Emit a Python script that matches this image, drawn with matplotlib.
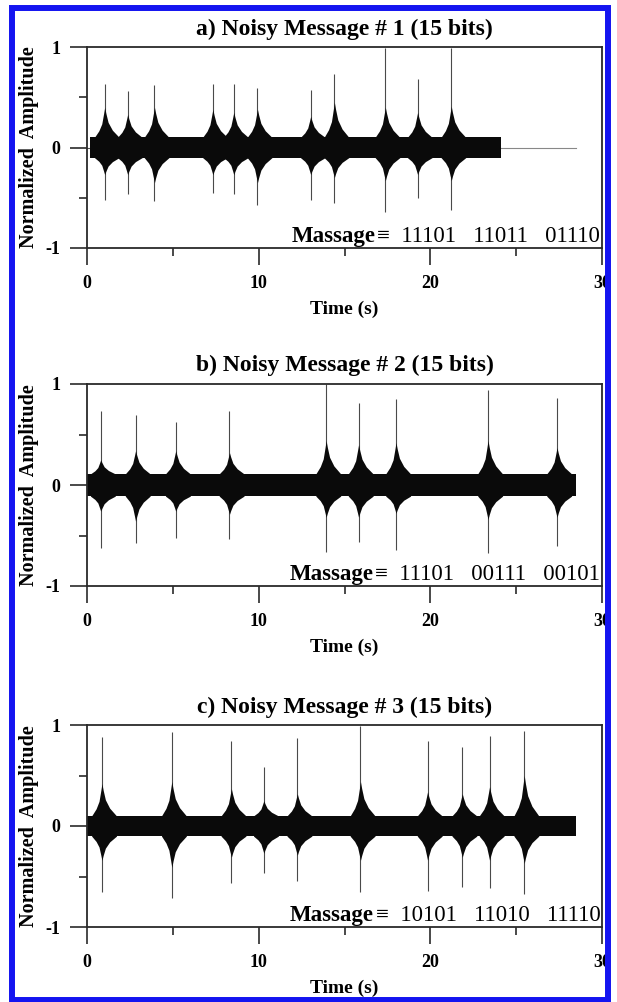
import matplotlib
matplotlib.use('Agg')
import matplotlib.pyplot as plt
from matplotlib.patches import Rectangle
import numpy as np

plt.rcParams['font.family'] = ['Liberation Serif', 'DejaVu Serif']

# ---------------- data ----------------
titles = ["a) Noisy Message # 1 (15 bits)",
          "b) Noisy Message # 2 (15 bits)",
          "c) Noisy Message # 3 (15 bits)"]
messages = ["11101   11011   01110",
            "11101   00111   00101",
            "10101   11010   11110"]

burst_t_a = [1.03, 2.37, 3.93, 7.33, 8.55, 9.93, 13.03, 14.41, 17.38, 19.26, 21.22]
peak_pos_a = [0.63, 0.56, 0.62, 0.63, 0.63, 0.59, 0.57, 0.73, 0.99, 0.68, 0.99]
peak_neg_a = [-0.52, -0.46, -0.53, -0.45, -0.46, -0.57, -0.52, -0.55, -0.64, -0.50, -0.62]
body_pos_a = [0.40, 0.33, 0.40, 0.38, 0.35, 0.38, 0.31, 0.45, 0.40, 0.35, 0.41]
body_neg_a = [-0.27, -0.27, -0.35, -0.27, -0.27, -0.35, -0.27, -0.30, -0.33, -0.27, -0.33]
noise_a = 0.10
span_a = [0.2, 24.1]
tail_a = 28.5

burst_t_b = [0.80, 2.83, 5.17, 8.30, 13.93, 15.82, 18.00, 23.36, 27.38]
peak_pos_b = [0.73, 0.69, 0.62, 0.73, 1.00, 0.81, 0.85, 0.94, 0.86]
peak_neg_b = [-0.62, -0.57, -0.52, -0.53, -0.66, -0.56, -0.64, -0.67, -0.60]
body_pos_b = [0.25, 0.34, 0.34, 0.32, 0.44, 0.40, 0.42, 0.44, 0.37]
body_neg_b = [-0.26, -0.36, -0.26, -0.29, -0.32, -0.32, -0.28, -0.34, -0.32]
noise_b = 0.11
span_b = [0.0, 28.5]
tail_b = None

burst_t_c = [0.87, 4.94, 8.41, 10.30, 12.25, 15.93, 19.84, 21.86, 23.45, 25.47]
peak_pos_c = [0.88, 0.93, 0.84, 0.58, 0.87, 0.99, 0.84, 0.78, 0.89, 0.94]
peak_neg_c = [-0.65, -0.71, -0.56, -0.47, -0.54, -0.65, -0.64, -0.60, -0.61, -0.67]
body_pos_c = [0.42, 0.44, 0.37, 0.25, 0.32, 0.44, 0.34, 0.32, 0.39, 0.50]
body_neg_c = [-0.34, -0.41, -0.31, -0.27, -0.29, -0.34, -0.34, -0.31, -0.34, -0.37]
noise_c = 0.10
span_c = [0.0, 28.5]
tail_c = None

panels = [
    (burst_t_a, peak_pos_a, peak_neg_a, body_pos_a, body_neg_a, noise_a, span_a, tail_a),
    (burst_t_b, peak_pos_b, peak_neg_b, body_pos_b, body_neg_b, noise_b, span_b, tail_b),
    (burst_t_c, peak_pos_c, peak_neg_c, body_pos_c, body_neg_c, noise_c, span_c, tail_c),
]

# ---------------- layout ----------------
W, H = 617, 1002
fig = plt.figure(figsize=(W / 100, H / 100), dpi=100)
ax_rects_px = [(87, 47, 515, 201), (87, 384, 515, 202), (87, 725, 515, 202)]

# burst shape (style): time offsets and fraction of body height
dt = np.array([-0.6, -0.34, -0.17, -0.06, 0.0, 0.07, 0.2, 0.45, 0.85])
frac = np.array([0.0, 0.22, 0.45, 0.8, 1.0, 0.8, 0.5, 0.24, 0.0])

spine_col = '#2a2a2a'
for i, (rect, pdata) in enumerate(zip(ax_rects_px, panels)):
    x0, y0, w, h = rect
    ax = fig.add_axes([x0 / W, 1 - (y0 + h) / H, w / W, h / H])
    bt, pp, pn, bp, bn, noise, span, tail = pdata

    # thin spikes (behind the dense bodies)
    ax.vlines(bt, pn, pp, color='#4a4a4a', lw=0.8, zorder=1)

    # baseline noise band
    ax.fill_between(span, [-noise] * 2, [noise] * 2, color='#0a0a0a', lw=0, zorder=2)
    if tail is not None:
        ax.plot([span[1], tail], [0, 0], color='#888888', lw=0.8, zorder=1)
    ax.plot([0, span[0] + 0.01], [0, 0], color='#555555', lw=0.8, zorder=1)

    # bursts
    for t, a, b, c, d in zip(bt, pp, pn, bp, bn):
        up = noise + frac * (c - noise)
        lo = -noise + frac * (d + noise)
        ax.fill_between(t + dt, lo, up, color='#0a0a0a', lw=0, zorder=3)

    ax.set_xlim(0, 30)
    ax.set_ylim(-1, 1)
    ax.set_xticks([0, 10, 20, 30])
    ax.set_xticks([5, 15, 25], minor=True)
    ax.set_yticks([-1, 0, 1])
    ax.set_yticklabels(['-1', '0', '1'])
    ax.set_yticks([-0.5, 0.5], minor=True)
    ax.tick_params(axis='both', which='major', direction='out', length=12.2, width=1.2,
                   color=spine_col, labelsize=13)
    ax.tick_params(axis='both', which='minor', direction='out', length=6, width=1.2,
                   color=spine_col)
    ax.tick_params(axis='x', which='major', pad=7)
    ax.tick_params(axis='y', which='major', pad=7)
    for lab in ax.get_xticklabels() + ax.get_yticklabels():
        lab.set_fontweight('bold')
    for s in ax.spines.values():
        s.set_color(spine_col)
        s.set_linewidth(1.3)

    ax.set_title(titles[i], fontsize=17, fontweight='bold', pad=9)
    ax.set_xlabel('Time (s)', fontsize=14, fontweight='bold')
    ax.xaxis.set_label_coords(0.5, -0.26)
    ax.xaxis.label.set_va('top')
    ax.set_ylabel('Normalized  Amplitude', fontsize=14.5, fontweight='bold')
    ax.yaxis.set_label_coords(-0.093, 0.5)

    reg = ax.text(29.9, -0.94, '\u2261  ' + messages[i], fontsize=16.5, ha='right',
                  va='baseline', zorder=6)
    ax._msg = reg

fig.canvas.draw()
for ax in fig.axes:
    reg = ax._msg
    bb = reg.get_window_extent()
    xl = ax.transData.inverted().transform((bb.x0, 0))[0]
    ax.text(xl - 0.12, -0.94, 'Massage', fontsize=16.5, fontweight='bold', ha='right',
            va='baseline', zorder=6)

# blue frame
fig.patches.append(Rectangle((12 / W, 2.5 / H), (608 - 12) / W, (994 - 2.5) / H,
                             transform=fig.transFigure, fill=False,
                             edgecolor='#1414f0', linewidth=4.3, zorder=10))

fig.savefig('out.png', dpi=100)
